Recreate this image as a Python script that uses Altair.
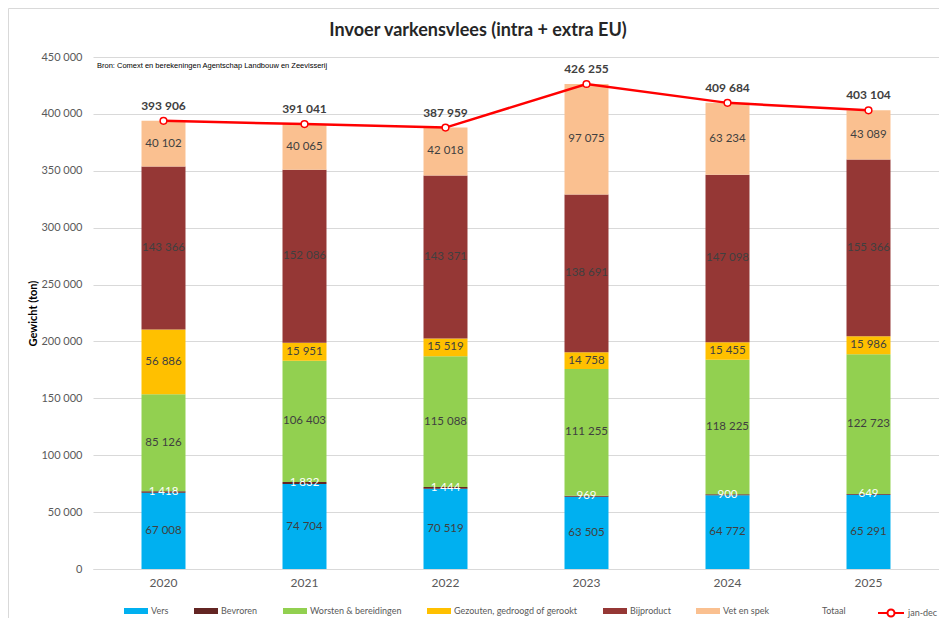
import altair as alt
import pandas as pd

years = ["2020", "2021", "2022", "2023", "2024", "2025"]
categories = ["Vers", "Bevroren", "Worsten & bereidingen",
              "Gezouten, gedroogd of gerookt", "Bijproduct", "Vet en spek"]
vers = [67008, 74704, 70519, 63505, 64772, 65291]
bevroren = [1418, 1832, 1444, 969, 900, 649]
worsten = [85126, 106403, 115088, 111255, 118225, 122723]
gezouten = [56886, 15951, 15519, 14758, 15455, 15986]
bijproduct = [143366, 152086, 143371, 138691, 147098, 155366]
vet = [40102, 40065, 42018, 97075, 63234, 43089]
totaal = [393906, 391041, 387959, 426255, 409684, 403104]
colors = ["#00B0F0", "#632523", "#92D050", "#FFC000", "#953735", "#FAC090"]
y_ticks = [0, 50000, 100000, 150000, 200000, 250000, 300000, 350000, 400000, 450000]

title_text = "Invoer varkensvlees (intra + extra EU)"
source_text = "Bron: Comext en berekeningen Agentschap Landbouw en Zeevisserij"


def fmt(v):
    return f"{v:,}".replace(",", " ")


series = [vers, bevroren, worsten, gezouten, bijproduct, vet]
rows = []
for i, y in enumerate(years):
    base = 0
    for k, cat in enumerate(categories):
        v = series[k][i]
        rows.append({"year": y, "cat": cat, "order": k, "value": v,
                     "y0": base, "y1": base + v, "mid": base + v / 2,
                     "label": fmt(v)})
        base += v
bars_df = pd.DataFrame(rows)

tot_df = pd.DataFrame({"year": years, "tot": totaal,
                       "serie": ["jan-dec"] * len(years),
                       "label": [fmt(v) for v in totaal]})

FONT = "Lato"
GRAY = "#595959"
W, H = 846, 512
LEG_Y = 542

x_axis = alt.Axis(title=None, labelAngle=0, ticks=False, domainColor="#d9d9d9",
                  labelColor=GRAY, labelFontSize=12, labelPadding=8, labelFont=FONT)
x_scale = alt.Scale(paddingInner=0.688, paddingOuter=0.344)
y_scale = alt.Scale(domain=[0, 450000], nice=False)
y_axis = alt.Axis(values=y_ticks, title="Gewicht (ton)", grid=True, gridColor="#d9d9d9",
                  domain=False, ticks=False, labelPadding=11, labelColor=GRAY,
                  labelFontSize=11, labelFont=FONT,
                  labelExpr="replace(format(datum.value, ',d'), ',', ' ')",
                  titleFontSize=11, titleFontWeight="bold", titleColor="#000000",
                  titleFont=FONT, titleX=-60, titleY=H / 2, titleAngle=-90,
                  titleAlign="center", titleBaseline="middle")


def X():
    return alt.X("year:N", sort=years, scale=x_scale, axis=x_axis)


def Y(field):
    return alt.Y(field, scale=y_scale, axis=y_axis)


rect_path = "M-1,-0.25L1,-0.25L1,0.25L-1,0.25Z"
line_path = "M-1,0L-0.27,0M0.27,0L1,0M0.27,0A0.27,0.27,0,1,1,-0.27,0A0.27,0.27,0,1,1,0.27,0"

bars = alt.Chart(bars_df).mark_bar().encode(
    x=X(),
    y=Y("y0:Q"),
    y2="y1:Q",
    color=alt.Color("cat:N",
                    scale=alt.Scale(domain=categories + ["Totaal"], range=colors + ["transparent"]),
                    legend=alt.Legend(title=None, orient="none", legendX=31, legendY=LEG_Y,
                                      direction="horizontal", symbolType=rect_path,
                                      symbolSize=576, symbolStrokeWidth=0, columnPadding=25,
                                      labelOffset=3, labelFontSize=9, labelColor=GRAY,
                                      labelFont=FONT, padding=0)),
)

labels_dark = alt.Chart(bars_df).transform_filter(alt.datum.cat != "Bevroren").mark_text(
    fontSize=11.5, color="#404040", font=FONT, baseline="middle"
).encode(x=X(), y=Y("mid:Q"), text="label:N")

labels_white = alt.Chart(bars_df).transform_filter(alt.datum.cat == "Bevroren").mark_text(
    fontSize=11.5, color="#ffffff", font=FONT, baseline="middle"
).encode(x=X(), y=Y("mid:Q"), text="label:N")

line = alt.Chart(tot_df).mark_line(strokeWidth=2.5).encode(
    x=X(),
    y=Y("tot:Q"),
    stroke=alt.Stroke("serie:N", scale=alt.Scale(domain=["jan-dec"], range=["#ff0000"]),
                      legend=alt.Legend(title=None, orient="none", legendX=784, legendY=LEG_Y,
                                        symbolType=line_path, symbolSize=676,
                                        symbolStrokeWidth=2, labelOffset=3, labelFontSize=9,
                                        labelColor=GRAY, labelFont=FONT, padding=0)),
)

points = alt.Chart(tot_df).mark_point(shape="circle", filled=True, fill="#ffffff",
                                      stroke="#ff0000", strokeWidth=1.5, size=45, opacity=1).encode(
    x=X(), y=Y("tot:Q"))

tot_labels = alt.Chart(tot_df).mark_text(dy=-15, fontSize=12, fontWeight="bold",
                                         color="#404040", font=FONT).encode(
    x=X(), y=Y("tot:Q"), text="label:N")

title = alt.Chart(pd.DataFrame({"t": [title_text]})).mark_text(
    fontSize=18, fontWeight="bold", color="#262626", font=FONT, baseline="middle", align="center"
).encode(text="t:N", x=alt.value(385), y=alt.value(-26))

source = alt.Chart(pd.DataFrame({"t": [source_text]})).mark_text(
    fontSize=7.5, color="#000000", font="Liberation Sans", baseline="middle", align="left"
).encode(text="t:N", x=alt.value(4), y=alt.value(9))

border = alt.Chart(pd.DataFrame({"a": [0]})).mark_rect(
    fill="transparent", stroke="#d9d9d9", strokeWidth=1
).encode(x=alt.value(-84.5), y=alt.value(-48.5), x2=alt.value(1200), y2=alt.value(900))

chart = alt.layer(bars, labels_dark, labels_white, line, points, tot_labels, title, source, border).properties(
    width=W, height=H,
    autosize=alt.AutoSizeParams(type="none"),
    padding={"left": 85, "top": 49, "right": 0, "bottom": 49},
).configure(font=FONT).configure_view(stroke=None)

chart.save("out.html", embed_options={"renderer": "svg", "actions": False})
